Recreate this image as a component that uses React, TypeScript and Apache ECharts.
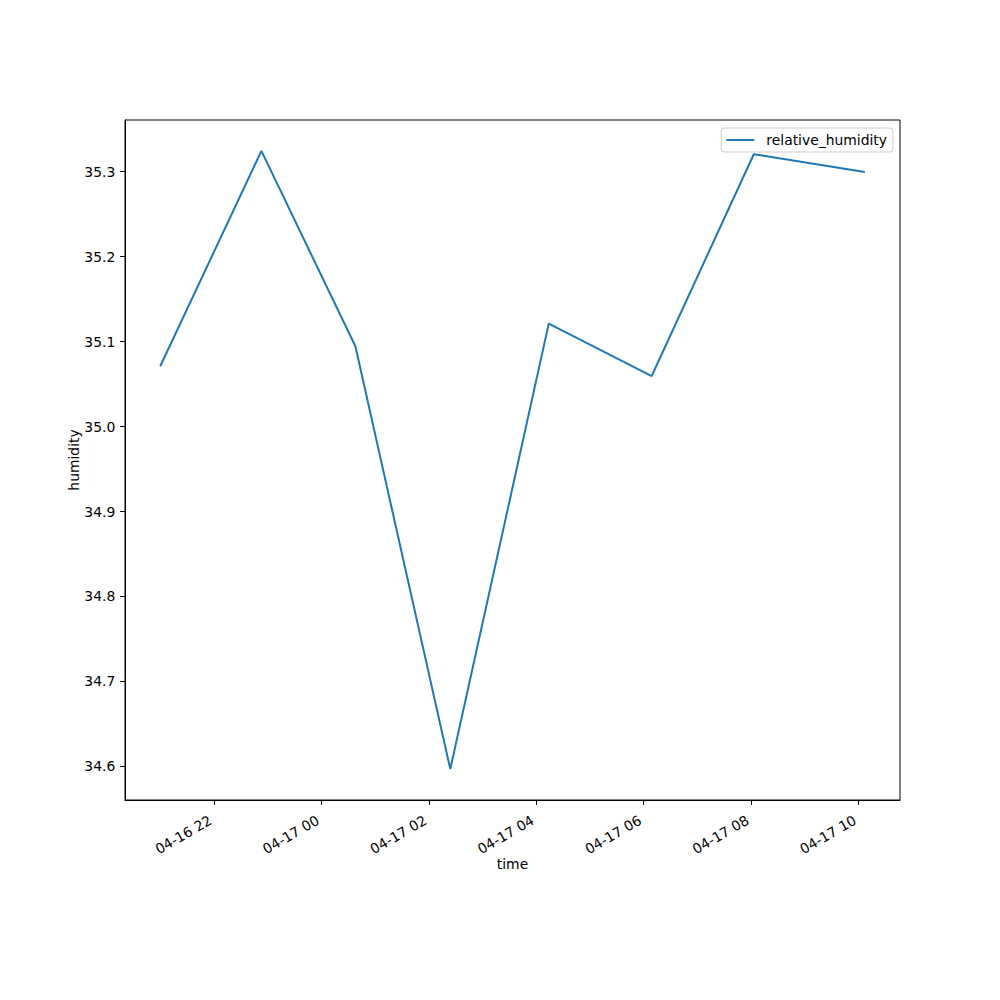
import React, { useEffect, useRef } from "react";
import * as echarts from "echarts";

const times = [
  "04-16 21:00",
  "04-16 22:53",
  "04-17 00:38",
  "04-17 02:24",
  "04-17 04:14",
  "04-17 06:09",
  "04-17 08:03",
  "04-17 10:07",
];
const humidity = [35.071, 35.3245, 35.0945, 34.5968, 35.1212, 35.0595, 35.3206, 35.2998];
const xTickLabels = ["04-16 22", "04-17 00", "04-17 02", "04-17 04", "04-17 06", "04-17 08", "04-17 10"];
const yTickLabels = ["34.6", "34.7", "34.8", "34.9", "35.0", "35.1", "35.2", "35.3"];
const seriesName = "relative_humidity";

// hours since 04-16 00:00
const toHours = (s: string) => {
  const [md, hm] = s.split(" ");
  const parts = md.split("-");
  const day = parseInt(parts[1], 10);
  const [h, m] = hm.split(":").map((v) => parseInt(v, 10));
  return (day - 16) * 24 + h + (m || 0) / 60;
};

const FONT = "DejaVu Sans";
const FS = 13.9;

export default function App() {
  const ref = useRef<HTMLDivElement>(null);
  useEffect(() => {
    if (!ref.current) return;
    const chart = echarts.init(ref.current, undefined, { renderer: "svg" });
    const xs = times.map(toHours);
    const xTickVals = xTickLabels.map((t) => toHours(t + ":00"));
    const yTickVals = yTickLabels.map((t) => parseFloat(t));
    const xmin0 = Math.min(...xs), xmax0 = Math.max(...xs);
    const ymin0 = Math.min(...humidity), ymax0 = Math.max(...humidity);
    const xm = (xmax0 - xmin0) * 0.05, ym = (ymax0 - ymin0) * 0.05;
    const data = xs.map((x, i) => [x, humidity[i]]);
    chart.setOption({
      animation: false,
      backgroundColor: "#ffffff",
      textStyle: { fontFamily: FONT },
      grid: {
        left: 125,
        right: 100,
        top: 120,
        bottom: 200,
        show: true,
        borderColor: "#000000",
        borderWidth: 1,
        backgroundColor: "transparent",
      },
      legend: {
        right: 107,
        top: 128,
        padding: [5, 6, 5, 5],
        itemWidth: 28,
        itemHeight: 14,
        borderColor: "#cccccc",
        borderWidth: 1,
        borderRadius: 3,
        backgroundColor: "rgba(255,255,255,0.8)",
        textStyle: { fontFamily: FONT, fontSize: FS, color: "#000000", padding: [0, 0, 0, 7] },
        data: [{ name: seriesName, icon: "path://M0,0 L28,0 L28,2 L0,2 Z" }],
        itemStyle: { color: "#1f77b4" },
      },
      xAxis: {
        type: "value",
        min: xmin0 - xm,
        max: xmax0 + xm,
        name: "time",
        nameLocation: "middle",
        nameGap: 57,
        nameMoveOverlap: false,
        nameTextStyle: { fontFamily: FONT, fontSize: FS, color: "#000000" },
        splitLine: { show: false },
        axisLine: { show: true, onZero: false, lineStyle: { color: "#000000", width: 1 } },
        axisTick: {
          show: true,
          length: 4.9,
          customValues: xTickVals,
          lineStyle: { color: "#000000", width: 1 },
        },
        axisLabel: {
          customValues: xTickVals,
          rotate: 30,
          margin: 25,
          verticalAlign: "bottom",
          align: "right",
          fontFamily: FONT,
          fontSize: FS,
          color: "#000000",
          formatter: (v: number) => {
            const i = xTickVals.findIndex((t) => Math.abs(t - v) < 1e-6);
            return i >= 0 ? xTickLabels[i] : "";
          },
        },
      },
      yAxis: {
        type: "value",
        min: ymin0 - ym,
        max: ymax0 + ym,
        name: "humidity",
        nameLocation: "middle",
        nameGap: 44,
        nameMoveOverlap: false,
        nameTextStyle: { fontFamily: FONT, fontSize: FS, color: "#000000" },
        splitLine: { show: false },
        axisLine: { show: true, lineStyle: { color: "#000000", width: 1 } },
        axisTick: {
          show: true,
          length: 4.9,
          customValues: yTickVals,
          lineStyle: { color: "#000000", width: 1 },
        },
        axisLabel: {
          customValues: yTickVals,
          margin: 9.7,
          fontFamily: FONT,
          fontSize: FS,
          color: "#000000",
          formatter: (v: number) => {
            const i = yTickVals.findIndex((t) => Math.abs(t - v) < 1e-6);
            return i >= 0 ? yTickLabels[i] : "";
          },
        },
      },
      series: [
        {
          name: seriesName,
          type: "line",
          data,
          symbol: "none",
          showSymbol: false,
          color: "#1f77b4",
          lineStyle: { color: "#1f77b4", width: 2 },
        },
      ],
    });
    return () => chart.dispose();
  }, []);
  return (
    <div
      ref={ref}
      style={{ position: "absolute", left: 0, top: 0, width: 1000, height: 1000 }}
    />
  );
}
